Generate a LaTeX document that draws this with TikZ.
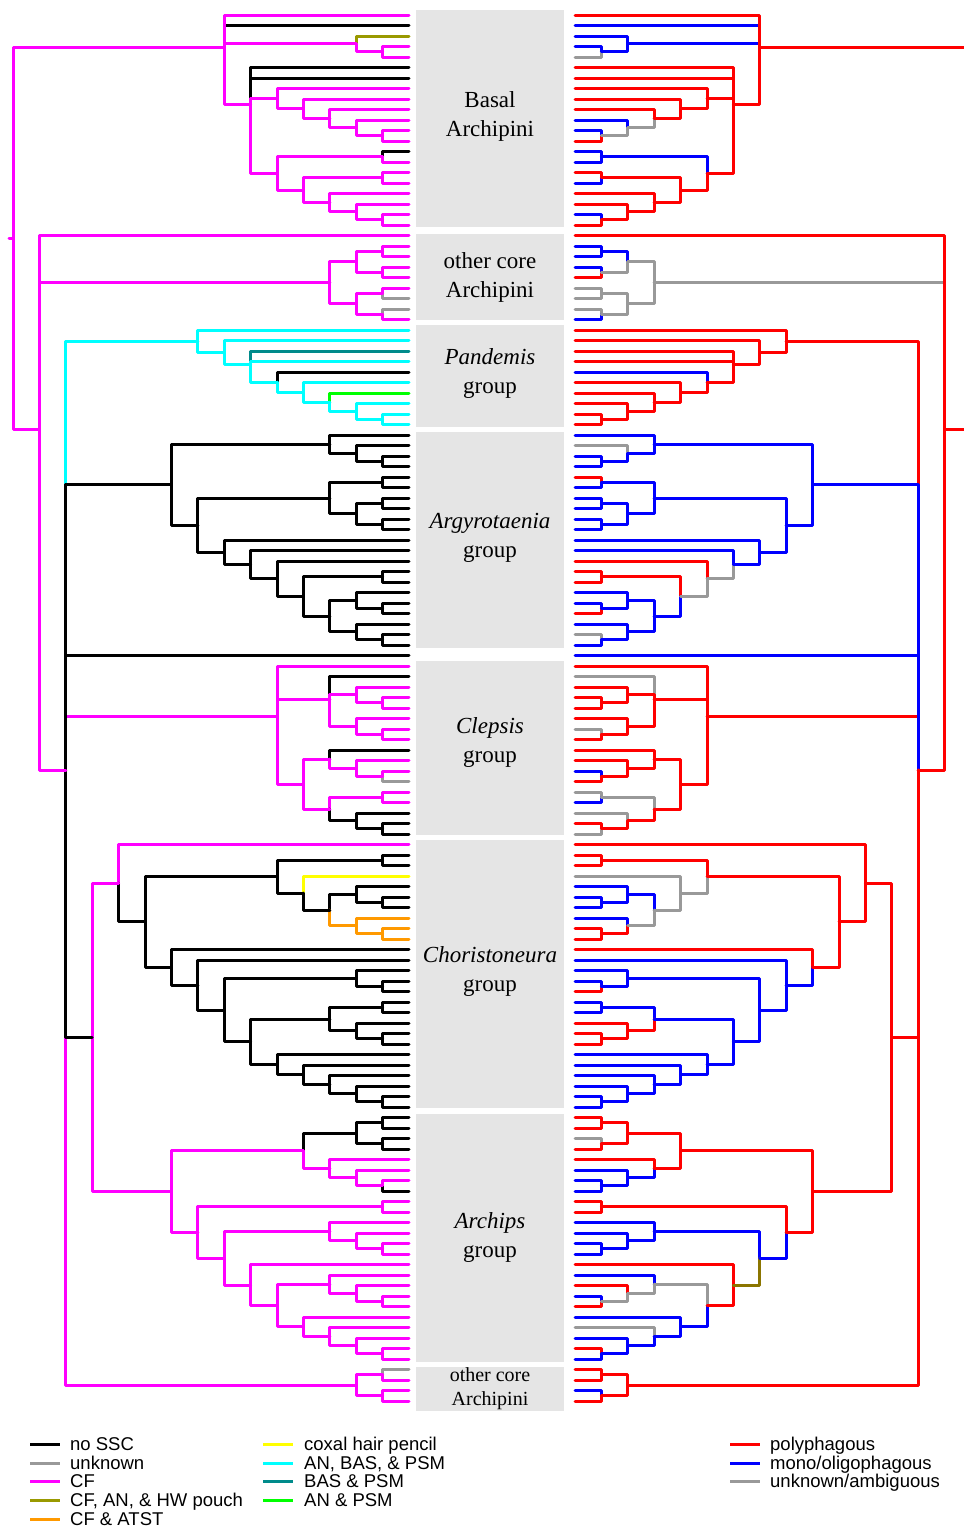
\documentclass[tikz,border=0pt]{standalone}
\usepackage{fontspec}
\setmainfont{Liberation Serif}
\newfontfamily\legendsans{Liberation Sans}

\definecolor{cK}{RGB}{0,0,0}
\definecolor{cG}{RGB}{153,153,153}
\definecolor{cM}{RGB}{255,0,255}
\definecolor{cO}{RGB}{153,153,0}
\definecolor{cA}{RGB}{255,153,0}
\definecolor{cY}{RGB}{255,255,0}
\definecolor{cC}{RGB}{0,255,255}
\definecolor{cT}{RGB}{0,139,139}
\definecolor{cN}{RGB}{0,255,0}
\definecolor{cR}{RGB}{255,0,0}
\definecolor{cB}{RGB}{0,0,255}
\definecolor{cV}{RGB}{139,117,0}
\definecolor{bandgray}{RGB}{229,229,229}

\tikzset{
  br/.style={line width=3pt,line cap=round,line join=round},
  band/.style={fill=bandgray},
  clade/.style={font=\fontsize{23}{28}\selectfont,anchor=base,inner sep=0pt},
  cladesm/.style={font=\fontsize{20}{24}\selectfont,anchor=base,inner sep=0pt},
  legtxt/.style={font=\legendsans\fontsize{18.5}{22}\selectfont,anchor=base west,inner sep=0pt},
  legline/.style={line width=3pt},
}

% x position of a node = origin + step * (height above the tips)
\newcommand\treeside[2]{\def\xorig{#1}\def\xstep{#2}}
% \Nd{name}{colour/child,...}: node placed at the mean height of its children,
% one column further out than its deepest child; one elbow edge per child
\newcommand\Nd[2]{%
  \gdef\accY{0}\gdef\accN{0}\gdef\accD{0}%
  \foreach \ec/\ek in {#2}{%
    \edef\tmpV{\csname yy@\ek\endcsname}%
    \edef\tmpW{\csname dp@\ek\endcsname}%
    \pgfmathsetmacro\tmpA{\accY+\tmpV}\xdef\accY{\tmpA}%
    \pgfmathsetmacro\tmpB{\accN+1}\xdef\accN{\tmpB}%
    \pgfmathsetmacro\tmpC{max(\accD,\tmpW)}\xdef\accD{\tmpC}%
  }%
  \pgfmathsetmacro\tmpY{\accY/\accN}%
  \pgfmathsetmacro\tmpD{\accD+1}%
  \expandafter\xdef\csname yy@#1\endcsname{\tmpY}%
  \expandafter\xdef\csname dp@#1\endcsname{\tmpD}%
  \pgfmathsetmacro\tmpX{\xorig+\xstep*\tmpD}%
  \coordinate (#1) at (\tmpX,\tmpY);%
  \foreach \ec/\ek in {#2}{\draw[br,\ec] (#1) |- (\ek);}%
}

\begin{document}
\begin{tikzpicture}[x=1pt,y=-1pt]
\path[use as bounding box] (0,0) rectangle (964,1527);
\begin{scope}
\clip (0,0) rectangle (964,1527);

% grey clade bands
\fill[band] (416,10) rectangle (564,227);
\fill[band] (416,234) rectangle (564,320);
\fill[band] (416,325) rectangle (564,427);
\fill[band] (416,432) rectangle (564,648);
\fill[band] (416,661) rectangle (564,835);
\fill[band] (416,840) rectangle (564,1108);
\fill[band] (416,1114) rectangle (564,1362);
\fill[band] (416,1367) rectangle (564,1411);

\node[clade] (t1a) at (490,107.5) {Basal};
\node[clade] (t1b) at (490,136.5) {Archipini};
\node[clade] (t2a) at (490,268.5) {other core};
\node[clade] (t2b) at (490,297.5) {Archipini};
\node[clade] (t3a) at (490,364.5) {\itshape Pandemis};
\node[clade] (t3b) at (490,393.5) {group};
\node[clade] (t4a) at (490,528.5) {\itshape Argyrotaenia};
\node[clade] (t4b) at (490,557.5) {group};
\node[clade] (t5a) at (490,733.5) {\itshape Clepsis};
\node[clade] (t5b) at (490,762.5) {group};
\node[clade] (t6a) at (490,962.5) {\itshape Choristoneura};
\node[clade] (t6b) at (490,991.5) {group};
\node[clade] (t7a) at (490,1228.5) {\itshape Archips};
\node[clade] (t7b) at (490,1257.5) {group};
\node[cladesm] (t8a) at (490,1381.5) {other core};
\node[cladesm] (t8b) at (490,1405.5) {Archipini};

% tips of both trees
\foreach \i in {0,...,132}{%
  \pgfmathsetmacro\ty{15+10.5*\i}%
  \expandafter\xdef\csname yy@L\i\endcsname{\ty}%
  \expandafter\xdef\csname dp@L\i\endcsname{0}%
  \expandafter\xdef\csname yy@R\i\endcsname{\ty}%
  \expandafter\xdef\csname dp@R\i\endcsname{0}%
  \coordinate (L\i) at (409,\ty);
  \coordinate (R\i) at (575,\ty);
}

% ---------------- left tree: sexually dimorphic characters ----------------
\treeside{409}{-26.4}
% basal Archipini
\Nd{lb1}{cM/L3,cM/L4}
\Nd{lb2}{cO/L2,cM/lb1}
\Nd{lb3}{cM/L11,cM/L12}
\Nd{lb4}{cM/L10,cM/lb3}
\Nd{lb5}{cM/L9,cM/lb4}
\Nd{lb6}{cM/L8,cM/lb5}
\Nd{lb7}{cM/L7,cM/lb6}
\Nd{lb8}{cK/L13,cM/L14}
\Nd{lb9}{cM/L19,cM/L20}
\Nd{lb10}{cM/L18,cM/lb9}
\Nd{lb11}{cM/L17,cM/lb10}
\Nd{lb12}{cM/L15,cM/L16}
\Nd{lb13}{cM/lb12,cM/lb11}
\Nd{lb14}{cM/lb8,cM/lb13}
\Nd{lb15}{cK/L5,cK/L6,cM/lb7,cM/lb14}
\Nd{lbas}{cK/L1,cM/L0,cM/lb2,cM/lb15}
% other core Archipini (upper)
\Nd{lo1}{cM/L22,cM/L23}
\Nd{lo2}{cM/L24,cM/L25}
\Nd{lo3}{cM/lo1,cM/lo2}
\Nd{lo4}{cM/L26,cG/L27}
\Nd{lo5}{cG/L28,cM/L29}
\Nd{lo6}{cM/lo4,cM/lo5}
\Nd{lo7}{cM/lo3,cM/lo6}
% Pandemis group
\Nd{lp1}{cC/L38,cC/L39}
\Nd{lp2}{cC/L37,cC/lp1}
\Nd{lp3}{cN/L36,cC/lp2}
\Nd{lp4}{cC/L35,cC/lp3}
\Nd{lp5}{cK/L34,cC/lp4}
\Nd{lp6}{cT/L32,cC/L33,cC/lp5}
\Nd{lp7}{cC/L31,cC/lp6}
\Nd{lp8}{cC/L30,cC/lp7}
% Argyrotaenia group
\Nd{la1}{cK/L42,cK/L43}
\Nd{la2}{cK/L41,cK/la1}
\Nd{la3}{cK/L40,cK/la2}
\Nd{la4}{cK/L44,cK/L45}
\Nd{la5}{cK/L46,cK/L47}
\Nd{la6}{cK/L48,cK/L49}
\Nd{la7}{cK/la5,cK/la6}
\Nd{la8}{cK/la4,cK/la7}
\Nd{la9}{cK/L53,cK/L54}
\Nd{la10}{cK/L56,cK/L57}
\Nd{la11}{cK/L55,cK/la10}
\Nd{la12}{cK/L59,cK/L60}
\Nd{la13}{cK/L58,cK/la12}
\Nd{la14}{cK/la11,cK/la13}
\Nd{la15}{cK/la9,cK/la14}
\Nd{la16}{cK/L52,cK/la15}
\Nd{la17}{cK/L51,cK/la16}
\Nd{la18}{cK/L50,cK/la17}
\Nd{la19}{cK/la8,cK/la18}
\Nd{la20}{cK/la3,cK/la19}
% Clepsis group
\Nd{lc1}{cM/L65,cM/L66}
\Nd{lc2}{cM/L64,cM/lc1}
\Nd{lc3}{cM/L68,cM/L69}
\Nd{lc4}{cM/L67,cM/lc3}
\Nd{lc5}{cK/L63,cM/lc2,cM/lc4}
\Nd{lc6}{cM/L72,cG/L73}
\Nd{lc7}{cM/L71,cM/lc6}
\Nd{lc8}{cK/L70,cM/lc7}
\Nd{lc9}{cM/L74,cM/L75}
\Nd{lc10}{cK/L77,cK/L78}
\Nd{lc11}{cK/L76,cK/lc10}
\Nd{lc12}{cM/lc9,cK/lc11}
\Nd{lc13}{cM/lc8,cM/lc12}
\Nd{lc14}{cM/L62,cM/lc5,cM/lc13}
% Choristoneura group
\Nd{lh1}{cK/L80,cK/L81}
\Nd{lh2}{cK/L84,cK/L85}
\Nd{lh3}{cK/L83,cK/lh2}
\Nd{lh4}{cA/L87,cA/L88}
\Nd{lh5}{cA/L86,cA/lh4}
\Nd{lh6}{cK/lh3,cA/lh5}
\Nd{lh7}{cY/L82,cK/lh6}
\Nd{lh8}{cK/lh1,cK/lh7}
\Nd{lh9}{cK/L92,cK/L93}
\Nd{lh10}{cK/L91,cK/lh9}
\Nd{lh11}{cK/L94,cK/L95}
\Nd{lh12}{cK/L97,cK/L98}
\Nd{lh13}{cK/L96,cK/lh12}
\Nd{lh14}{cK/lh11,cK/lh13}
\Nd{lh15}{cK/L103,cK/L104}
\Nd{lh16}{cK/L102,cK/lh15}
\Nd{lh17}{cK/L101,cK/lh16}
\Nd{lh18}{cK/L100,cK/lh17}
\Nd{lh19}{cK/L99,cK/lh18}
\Nd{lh20}{cK/lh14,cK/lh19}
\Nd{lh21}{cK/lh10,cK/lh20}
\Nd{lh22}{cK/L90,cK/lh21}
\Nd{lh23}{cK/L89,cK/lh22}
\Nd{lh24}{cK/lh8,cK/lh23}
\Nd{lh25}{cM/L79,cK/lh24}
% Archips group
\Nd{lr1}{cK/L105,cK/L106}
\Nd{lr2}{cK/L107,cK/L108}
\Nd{lr3}{cK/lr1,cK/lr2}
\Nd{lr4}{cM/L111,cK/L112}
\Nd{lr5}{cM/L110,cM/lr4}
\Nd{lr6}{cM/L109,cM/lr5}
\Nd{lr7}{cK/lr3,cM/lr6}
\Nd{lr8}{cM/L113,cM/L114}
\Nd{lr9}{cM/L117,cM/L118}
\Nd{lr10}{cM/L116,cM/lr9}
\Nd{lr11}{cM/L115,cM/lr10}
\Nd{lr12}{cM/L122,cM/L123}
\Nd{lr13}{cM/L121,cM/lr12}
\Nd{lr14}{cM/L120,cM/lr13}
\Nd{lr15}{cM/L127,cM/L128}
\Nd{lr16}{cM/L126,cM/lr15}
\Nd{lr17}{cM/L125,cM/lr16}
\Nd{lr18}{cM/L124,cM/lr17}
\Nd{lr19}{cM/lr14,cM/lr18}
\Nd{lr20}{cM/L119,cM/lr19}
\Nd{lr21}{cM/lr11,cM/lr20}
\Nd{lr22}{cM/lr8,cM/lr21}
\Nd{lr23}{cM/lr7,cM/lr22}
\Nd{lx}{cM/lh25,cM/lr23}
% other core Archipini (lower)
\Nd{lq1}{cG/L129,cM/L130}
\Nd{lq2}{cM/L131,cM/L132}
\Nd{lq3}{cM/lq1,cM/lq2}
% backbone
\Nd{ly}{cC/lp8,cM/lc14,cM/lq3,cK/la20,cK/L61,cK/lx}
\Nd{lxx}{cM/L21,cM/lo7,cM/ly}
\Nd{lroot}{cM/lbas,cM/lxx}
\path (lroot) ++(-4,0) coordinate (lstub);
\draw[br,cM] (lroot) -- (lstub);

% ---------------- right tree: host range ----------------
\treeside{575}{26.4}
% basal Archipini
\Nd{rb1}{cB/R3,cG/R4}
\Nd{rb2}{cB/R2,cB/rb1}
\Nd{rb3}{cB/R11,cR/R12}
\Nd{rb4}{cB/R10,cG/rb3}
\Nd{rb5}{cR/R9,cG/rb4}
\Nd{rb6}{cR/R8,cR/rb5}
\Nd{rb7}{cR/R7,cR/rb6}
\Nd{rb8}{cB/R13,cB/R14}
\Nd{rb9}{cB/R19,cR/R20}
\Nd{rb10}{cR/R18,cR/rb9}
\Nd{rb11}{cR/R17,cR/rb10}
\Nd{rb12}{cR/R15,cB/R16}
\Nd{rb13}{cR/rb12,cR/rb11}
\Nd{rb14}{cB/rb8,cR/rb13}
\Nd{rb15}{cR/R5,cR/R6,cR/rb7,cR/rb14}
\Nd{rbas}{cB/R1,cB/rb2,cR/R0,cR/rb15}
% other core Archipini (upper)
\Nd{ro1}{cB/R22,cB/R23}
\Nd{ro2}{cB/R24,cR/R25}
\Nd{ro3}{cB/ro1,cG/ro2}
\Nd{ro4}{cG/R26,cG/R27}
\Nd{ro5}{cG/R28,cB/R29}
\Nd{ro6}{cG/ro4,cG/ro5}
\Nd{ro7}{cG/ro3,cG/ro6}
% Pandemis group
\Nd{rp1}{cR/R38,cR/R39}
\Nd{rp2}{cR/R37,cR/rp1}
\Nd{rp3}{cR/R36,cR/rp2}
\Nd{rp4}{cR/R35,cR/rp3}
\Nd{rp5}{cB/R34,cR/rp4}
\Nd{rp6}{cR/R32,cR/R33,cR/rp5}
\Nd{rp7}{cR/R31,cR/rp6}
\Nd{rp8}{cR/R30,cR/rp7}
% Argyrotaenia group
\Nd{ra1}{cB/R42,cB/R43}
\Nd{ra2}{cG/R41,cB/ra1}
\Nd{ra3}{cB/R40,cB/ra2}
\Nd{ra4}{cR/R44,cB/R45}
\Nd{ra5}{cB/R46,cB/R47}
\Nd{ra6}{cB/R48,cB/R49}
\Nd{ra7}{cB/ra5,cB/ra6}
\Nd{ra8}{cB/ra4,cB/ra7}
\Nd{ra9}{cR/R53,cR/R54}
\Nd{ra10}{cB/R56,cR/R57}
\Nd{ra11}{cB/R55,cB/ra10}
\Nd{ra12}{cG/R59,cB/R60}
\Nd{ra13}{cB/R58,cB/ra12}
\Nd{ra14}{cB/ra11,cB/ra13}
\Nd{ra15}{cR/ra9,cB/ra14}
\Nd{ra16}{cR/R52,cG/ra15}
\Nd{ra17}{cB/R51,cG/ra16}
\Nd{ra18}{cB/R50,cB/ra17}
\Nd{ra19}{cB/ra8,cB/ra18}
\Nd{ra20}{cB/ra3,cB/ra19}
% Clepsis group
\Nd{rc1}{cR/R65,cR/R66}
\Nd{rc2}{cR/R64,cR/rc1}
\Nd{rc3}{cG/R68,cR/R69}
\Nd{rc4}{cR/R67,cR/rc3}
\Nd{rc5}{cG/R63,cR/rc2,cR/rc4}
\Nd{rc6}{cB/R72,cR/R73}
\Nd{rc7}{cR/R71,cR/rc6}
\Nd{rc8}{cR/R70,cR/rc7}
\Nd{rc9}{cG/R74,cB/R75}
\Nd{rc10}{cR/R77,cG/R78}
\Nd{rc11}{cG/R76,cR/rc10}
\Nd{rc12}{cG/rc9,cR/rc11}
\Nd{rc13}{cR/rc8,cR/rc12}
\Nd{rc14}{cR/R62,cR/rc5,cR/rc13}
% Choristoneura group
\Nd{rh1}{cR/R80,cR/R81}
\Nd{rh2}{cB/R84,cB/R85}
\Nd{rh3}{cB/R83,cB/rh2}
\Nd{rh4}{cR/R87,cR/R88}
\Nd{rh5}{cB/R86,cR/rh4}
\Nd{rh6}{cB/rh3,cG/rh5}
\Nd{rh7}{cG/R82,cG/rh6}
\Nd{rh8}{cR/rh1,cG/rh7}
\Nd{rh9}{cB/R92,cR/R93}
\Nd{rh10}{cB/R91,cB/rh9}
\Nd{rh11}{cB/R94,cB/R95}
\Nd{rh12}{cR/R97,cR/R98}
\Nd{rh13}{cR/R96,cR/rh12}
\Nd{rh14}{cB/rh11,cR/rh13}
\Nd{rh15}{cB/R103,cB/R104}
\Nd{rh16}{cB/R102,cB/rh15}
\Nd{rh17}{cB/R101,cB/rh16}
\Nd{rh18}{cB/R100,cB/rh17}
\Nd{rh19}{cB/R99,cB/rh18}
\Nd{rh20}{cB/rh14,cB/rh19}
\Nd{rh21}{cB/rh10,cB/rh20}
\Nd{rh22}{cB/R90,cB/rh21}
\Nd{rh23}{cR/R89,cB/rh22}
\Nd{rh24}{cR/rh8,cR/rh23}
\Nd{rh25}{cR/R79,cR/rh24}
% Archips group
\Nd{rr1}{cR/R105,cR/R106}
\Nd{rr2}{cG/R107,cR/R108}
\Nd{rr3}{cR/rr1,cR/rr2}
\Nd{rr4}{cB/R111,cB/R112}
\Nd{rr5}{cB/R110,cB/rr4}
\Nd{rr6}{cR/R109,cB/rr5}
\Nd{rr7}{cR/rr3,cR/rr6}
\Nd{rr8}{cR/R113,cR/R114}
\Nd{rr9}{cB/R117,cB/R118}
\Nd{rr10}{cB/R116,cB/rr9}
\Nd{rr11}{cB/R115,cB/rr10}
\Nd{rr12}{cB/R122,cR/R123}
\Nd{rr13}{cR/R121,cG/rr12}
\Nd{rr14}{cB/R120,cG/rr13}
\Nd{rr15}{cR/R127,cB/R128}
\Nd{rr16}{cB/R126,cB/rr15}
\Nd{rr17}{cG/R125,cB/rr16}
\Nd{rr18}{cB/R124,cB/rr17}
\Nd{rr19}{cG/rr14,cB/rr18}
\Nd{rr20}{cR/R119,cR/rr19}
\Nd{rr21}{cB/rr11,cV/rr20}
\Nd{rr22}{cR/rr8,cB/rr21}
\Nd{rr23}{cR/rr7,cR/rr22}
\Nd{rx}{cR/rh25,cR/rr23}
% other core Archipini (lower)
\Nd{rq1}{cR/R129,cR/R130}
\Nd{rq2}{cB/R131,cR/R132}
\Nd{rq3}{cR/rq1,cR/rq2}
% backbone
\Nd{ry}{cR/rp8,cR/rc14,cB/ra20,cB/R61,cR/rx,cR/rq3}
\Nd{rxx}{cG/ro7,cR/R21,cR/ry}
\Nd{rroot}{cR/rbas,cR/rxx}
\end{scope}

% ---------------- legend ----------------
\foreach \col/\yy/\txt/\nm in {
  cK/1444/no SSC/a, cG/1463/unknown/b, cM/1481/CF/c,
  cO/1500/{CF, AN, \& HW pouch}/d, cA/1519/CF \& ATST/e}{
  \draw[legline,\col] (30,\yy) -- (60,\yy);
  \node[legtxt] (leg\nm) at (70,\yy+6) {\txt};
}
\foreach \col/\yy/\txt/\nm in {
  cY/1444/coxal hair pencil/f, cC/1463/{AN, BAS, \& PSM}/g,
  cT/1481/BAS \& PSM/h, cN/1500/AN \& PSM/i}{
  \draw[legline,\col] (263,\yy) -- (293,\yy);
  \node[legtxt] (leg\nm) at (304,\yy+6) {\txt};
}
\foreach \col/\yy/\txt/\nm in {
  cR/1444/polyphagous/j, cB/1463/{mono/oligophagous}/k, cG/1481/{unknown/ambiguous}/l}{
  \draw[legline,\col] (730,\yy) -- (760,\yy);
  \node[legtxt] (leg\nm) at (770,\yy+6) {\txt};
}
\end{tikzpicture}
\end{document}
